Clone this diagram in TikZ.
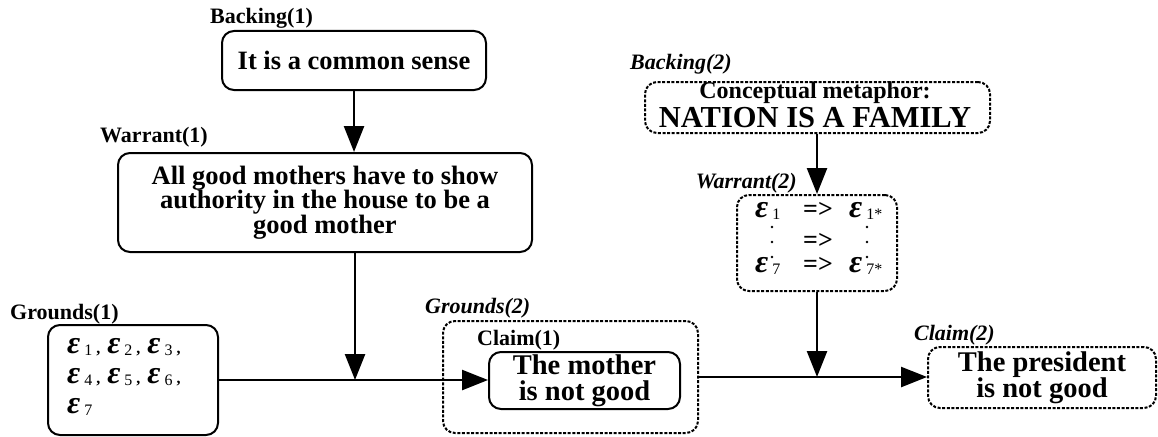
\documentclass[tikz,border=0pt]{standalone}
\usepackage{fontspec}
\setmainfont{Liberation Serif}
\usetikzlibrary{arrows.meta}
% bold italic epsilon with a small upright index
\newcommand\gep[1]{\textbf{\textit{ε}}\hspace{4pt}\raisebox{-2pt}{\fontsize{16}{16}\selectfont #1}}
\newcommand\gcm{{\fontsize{16}{16}\selectfont\bfseries\hspace{4pt},\hspace{7pt}}}
\begin{document}
\begin{tikzpicture}[x=1pt,y=-1pt,
  solidbox/.style={draw, line width=2pt, rounded corners=12pt, inner sep=0pt},
  dashbox/.style={draw, line width=2pt, dash pattern=on 3pt off 1.6pt, rounded corners=12pt, inner sep=0pt},
  lbl/.style={font=\fontsize{22}{22}\selectfont\bfseries, anchor=base west, inner sep=0pt},
  ilbl/.style={font=\fontsize{22}{22}\selectfont\bfseries\itshape, anchor=base west, inner sep=0pt},
  body/.style={font=\fontsize{26.5}{24.5}\selectfont\bfseries, align=center},
  claimtxt/.style={font=\fontsize{28.5}{26}\selectfont\bfseries, align=center},
  epsrow/.style={font=\fontsize{32}{32}\selectfont, anchor=base west, inner sep=0pt},
  impl/.style={font=\fontsize{26}{26}\selectfont\bfseries, anchor=base west, inner sep=0pt},
  arr/.style={line width=2.5pt, -{Triangle[length=26pt,width=20pt]}},
]
\useasboundingbox (0,0) rectangle (1158,436);

% ---- first argument ----
\node[solidbox, minimum width=264pt, minimum height=59pt, body] (b1) at (354,60.5) {It is a common sense};
\node[lbl] (lb1) at (210,24) {Backing(1)};

\node[solidbox, minimum width=414pt, minimum height=99pt, body] (w1) at (325,202.5)
  {All good mothers have to show\\authority in the house to be a\\good mother};
\node[lbl] (lw1) at (100,142) {Warrant(1)};

\node[solidbox, minimum width=170pt, minimum height=110pt] (g1) at (133,380) {};
\node[lbl] (lg1) at (10,319) {Grounds(1)};
\node[epsrow] (g1r1) at (67,353) {\gep{1}\gcm\gep{2}\gcm\gep{3}\gcm};
\node[epsrow] (g1r2) at (67,383) {\gep{4}\gcm\gep{5}\gcm\gep{6}\gcm};
\node[epsrow] (g1r3) at (67,413) {\gep{7}};

\node[dashbox, minimum width=255pt, minimum height=112pt] (g2) at (570.5,377) {};
\node[ilbl] (lg2) at (425,313) {Grounds(2)};
\node[solidbox, minimum width=191pt, minimum height=57pt, claimtxt] (c1) at (584.5,380.5) {The mother\\is not good};
\node[lbl] (lc1) at (477,345) {Claim(1)};

% ---- second argument ----
\node[dashbox, minimum width=345pt, minimum height=51pt] (b2) at (817.5,107.5) {};
\node[font=\fontsize{24}{24}\selectfont\bfseries, anchor=base, inner sep=0pt] (b2a) at (815,98) {Conceptual metaphor:};
\node[font=\fontsize{30.5}{30.5}\selectfont\bfseries, anchor=base, inner sep=0pt] (b2b) at (815,127) {NATION IS A FAMILY};
\node[ilbl] (lb2) at (630,70) {Backing(2)};

\node[dashbox, minimum width=160pt, minimum height=96pt] (w2) at (817,243) {};
\node[ilbl, anchor=base east] (lw2) at (797,188) {Warrant(2)};
\node[epsrow] (w2l1) at (755,217) {\gep{1}};
\node[impl] (w2m1) at (803,217) {=>};
\node[epsrow] (w2r1) at (849,217) {\gep{1*}};
\node[impl] (w2m2) at (803,248) {=>};
\node[epsrow] (w2l3) at (755,272) {\gep{7}};
\node[impl] (w2m3) at (803,272) {=>};
\node[epsrow] (w2r3) at (849,272) {\gep{7*}};
\foreach \dx in {772,867}{
  \foreach \dy in {227,242,257}{\fill (\dx,\dy) circle (1.4pt);}
}

\node[dashbox, minimum width=228pt, minimum height=61pt, claimtxt] (c2) at (1042,377.5) {The president\\is not good};
\node[ilbl, anchor=base east] (lc2) at (995,340) {Claim(2)};

% ---- connectors ----
\coordinate (j1) at (355,380);
\draw[arr] (b1.south) -- (b1.south |- w1.north);
\draw[arr] (j1 |- w1.south) -- (j1);
\draw[arr] (g1.east) -- (g1.east -| c1.west);
\draw[arr] (w2.north |- b2.south) -- (w2.north);
\draw[arr] (w2.south) -- (w2.south |- g2.east);
\draw[arr] (g2.east) -- (g2.east -| c2.west);
\end{tikzpicture}
\end{document}
